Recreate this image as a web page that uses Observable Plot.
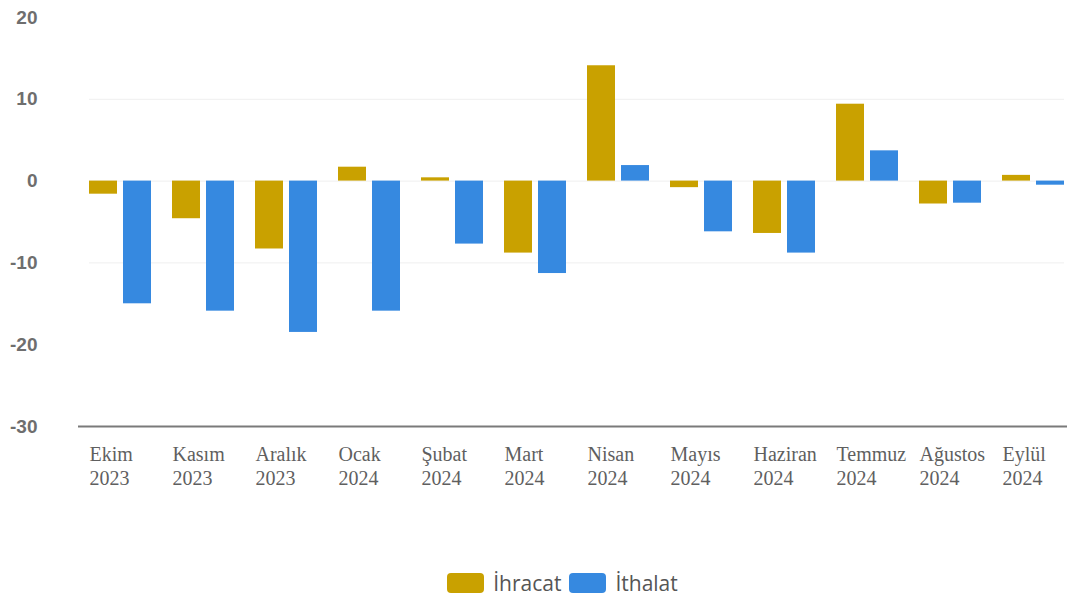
<!DOCTYPE html>
<html>
<head>
<meta charset="utf-8">
<script src="https://cdn.jsdelivr.net/npm/d3@7"></script>
<script src="https://cdn.jsdelivr.net/npm/@observablehq/plot@0.6"></script>
<style>
  html, body { margin: 0; padding: 0; background: #fff; overflow: hidden; }
  #chart { width: 1067px; height: 500px; }
  #legend { display: flex; justify-content: center; align-items: center; gap: 8px; padding-top: 72px; padding-left: 58px;
    font-family: "Open Sans", sans-serif; font-size: 21px; line-height: 22px; color: #555; }
  .sw { width: 37px; height: 20px; border-radius: 4px; display: inline-block; }
  .item { display: flex; align-items: center; gap: 9px; }
</style>
</head>
<body>
<div id="chart"></div>
<div id="legend"></div>
<script>
const months = ["Ekim\n2023", "Kasım\n2023", "Aralık\n2023", "Ocak\n2024", "Şubat\n2024", "Mart\n2024",
                "Nisan\n2024", "Mayıs\n2024", "Haziran\n2024", "Temmuz\n2024", "Ağustos\n2024", "Eylül\n2024"];
const ihracat = [-1.6, -4.6, -8.3, 1.7, 0.4, -8.8, 14.1, -0.8, -6.4, 9.4, -2.8, 0.7];
const ithalat = [-15.0, -15.9, -18.5, -15.9, -7.7, -11.3, 1.9, -6.2, -8.8, 3.7, -2.7, -0.5];
const seriesNames = ["İhracat", "İthalat"];
const seriesColors = ["#C9A100", "#3689E0"];
const yTicks = [20, 10, 0, -10, -20, -30];

const rowsIhr = months.map((m, i) => ({month: m, value: ihracat[i]}));
const rowsIth = months.map((m, i) => ({month: m, value: ithalat[i]}));

const plot = Plot.plot({
  width: 1067,
  height: 500,
  marginLeft: 89,
  marginRight: 3,
  marginTop: 17,
  marginBottom: 74,
  x: {domain: months, padding: 0.253, paddingOuter: 0, round: false},
  y: {domain: [-30, 20], ticks: yTicks},
  marks: [
    Plot.ruleY([10, 0, -10], {stroke: "#efefef", strokeWidth: 1}),
    Plot.barY(rowsIhr, {x: "month", y: "value", fill: seriesColors[0], insetRight: 34}),
    Plot.barY(rowsIth, {x: "month", y: "value", fill: seriesColors[1], insetLeft: 34}),
    Plot.ruleY([-30], {stroke: "#7a7a7a", strokeWidth: 2, insetLeft: -11, insetRight: -3}),
    Plot.axisY({ticks: yTicks, tickSize: 0, tickPadding: 52, label: null, tickFormat: d => String(d),
      fontSize: 19, fontWeight: "bold", fontFamily: "Liberation Sans, Arial, sans-serif", fill: "#6e6e6e"}),
    Plot.axisX({tickSize: 0, tickPadding: 18, label: null, textAnchor: "start", dx: -31,
      lineHeight: 1.18, fontSize: 20, fontFamily: "Liberation Serif, Times New Roman, serif", fill: "#5f5f5f"})
  ]
});
document.getElementById("chart").appendChild(plot);

const legend = document.getElementById("legend");
seriesNames.forEach((name, i) => {
  const it = document.createElement("span");
  it.className = "item";
  const sw = document.createElement("span");
  sw.className = "sw";
  sw.style.background = seriesColors[i];
  const tx = document.createElement("span");
  tx.textContent = name;
  it.appendChild(sw); it.appendChild(tx);
  legend.appendChild(it);
});
</script>
</body>
</html>
